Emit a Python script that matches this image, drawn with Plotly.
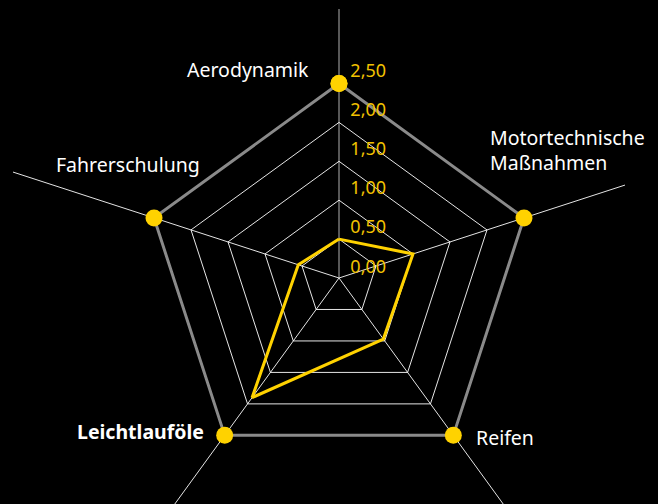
import math
import plotly.graph_objects as go

# ---- data ----
categories = ["Aerodynamik", "Motortechnische Maßnahmen", "Reifen", "Leichtlauföle", "Fahrerschulung"]
category_labels = ["Aerodynamik", "Motortechnische<br>Maßnahmen", "Reifen", "<b>Leichtlauföle</b>", "Fahrerschulung"]
values = [0.5, 1.0, 0.97, 1.9, 0.55]
max_values = [2.5, 2.5, 2.5, 2.5, 2.5]
tick_vals = [0, 0.5, 1.0, 1.5, 2.0, 2.5]
tick_labels = ["0,00", "0,50", "1,00", "1,50", "2,00", "2,50"]

# ---- layout geometry ----
W, H = 658, 504
CX, CY = 339.0, 278.0          # polar centre (px)
R_OUT = 194.5                  # px radius of value 2.5
RPX = 225.5                    # polar radius (px)
rmax = max(max_values) * RPX / R_OUT

GOLD = "#FFD200"
TICK_GOLD = "#F2C200"
FONT = "Noto Sans"

def paper(x, y):
    return x / W, 1 - y / H

def closed(seq):
    return list(seq) + [seq[0]]

fig = go.Figure()

# outer (maximum) polygon with markers
fig.add_trace(go.Scatterpolar(
    r=closed(max_values), theta=closed(categories), mode="lines+markers",
    line=dict(color="#8a8a8a", width=3),
    marker=dict(color=GOLD, size=17, line=dict(width=0)),
    hoverinfo="skip", showlegend=False, cliponaxis=False,
))
# value polygon
fig.add_trace(go.Scatterpolar(
    r=closed(values), theta=closed(categories), mode="lines",
    line=dict(color=GOLD, width=3),
    showlegend=False, cliponaxis=False,
))
# radial tick labels (the centre one is hidden by plotly's range test, so it is an annotation)
fig.add_trace(go.Scatterpolar(
    r=tick_vals[1:], theta=[categories[0]] * len(tick_vals[1:]), mode="markers+text",
    text=["\u00a0\u00a0" + t for t in tick_labels[1:]], textposition="top right",
    textfont=dict(color=TICK_GOLD, size=18, family=FONT),
    marker=dict(size=1.6, color="rgba(0,0,0,0)"),
    hoverinfo="skip", showlegend=False, cliponaxis=False,
))

# spokes extending to the plot rectangle
XMIN, XMAX, YMIN, YMAX = 13, 625, 9, H
shapes = []
n = len(categories)
for i in range(n):
    a = math.radians(90 - 360 * i / n)
    dx, dy = math.cos(a), -math.sin(a)
    ts = []
    if dx > 1e-9: ts.append((XMAX - CX) / dx)
    if dx < -1e-9: ts.append((XMIN - CX) / dx)
    if dy > 1e-9: ts.append((YMAX - CY) / dy)
    if dy < -1e-9: ts.append((YMIN - CY) / dy)
    t = min(ts)
    x0, y0 = paper(CX, CY)
    x1, y1 = paper(CX + dx * t, CY + dy * t)
    shapes.append(dict(type="line", xref="paper", yref="paper", x0=x0, y0=y0, x1=x1, y1=y1,
                       line=dict(color="#b0b0b0" if i == 0 else "#e4e4e4", width=1), layer="below"))

# category labels
label_pos = [
    (311, 70, "right"),
    (488, 150, "left"),
    (474, 437, "left"),
    (206, 431, "right"),
    (54, 165, "left"),
]
annotations = []
for lab, (x, y, anc) in zip(category_labels, label_pos):
    px, py = paper(x, y)
    annotations.append(dict(text=lab, x=px, y=py, xref="paper", yref="paper",
                            xanchor=anc, yanchor="middle", align="left", showarrow=False,
                            font=dict(color="#ffffff", size=19.5, family=FONT)))
# centre tick label
px, py = paper(CX, CY - 12)
annotations.append(dict(text="\u00a0\u00a0" + tick_labels[0], x=px, y=py, xref="paper", yref="paper",
                        xanchor="left", yanchor="middle", showarrow=False,
                        font=dict(color=TICK_GOLD, size=18, family=FONT)))

fig.update_layout(
    width=W, height=H,
    margin=dict(l=0, r=0, t=0, b=0),
    paper_bgcolor="#000000", plot_bgcolor="#000000",
    showlegend=False,
    shapes=shapes, annotations=annotations,
    polar=dict(
        domain=dict(x=[(CX - RPX) / W, (CX + RPX) / W], y=[(H - CY - RPX) / H, (H - CY + RPX) / H]),
        bgcolor="rgba(0,0,0,0)",
        gridshape="linear",
        radialaxis=dict(range=[0, rmax], tickvals=tick_vals, showticklabels=False, ticks="",
                        showline=False, gridcolor="rgba(255,255,255,0.9)", gridwidth=1, angle=90),
        angularaxis=dict(categoryorder="array", categoryarray=categories, direction="clockwise",
                         rotation=90, showline=False, showgrid=False, showticklabels=False, ticks=""),
    ),
)

fig.write_html("out.html", config={"displayModeBar": False},
               post_script="document.body.style.margin='0';document.body.style.background='#000';")
